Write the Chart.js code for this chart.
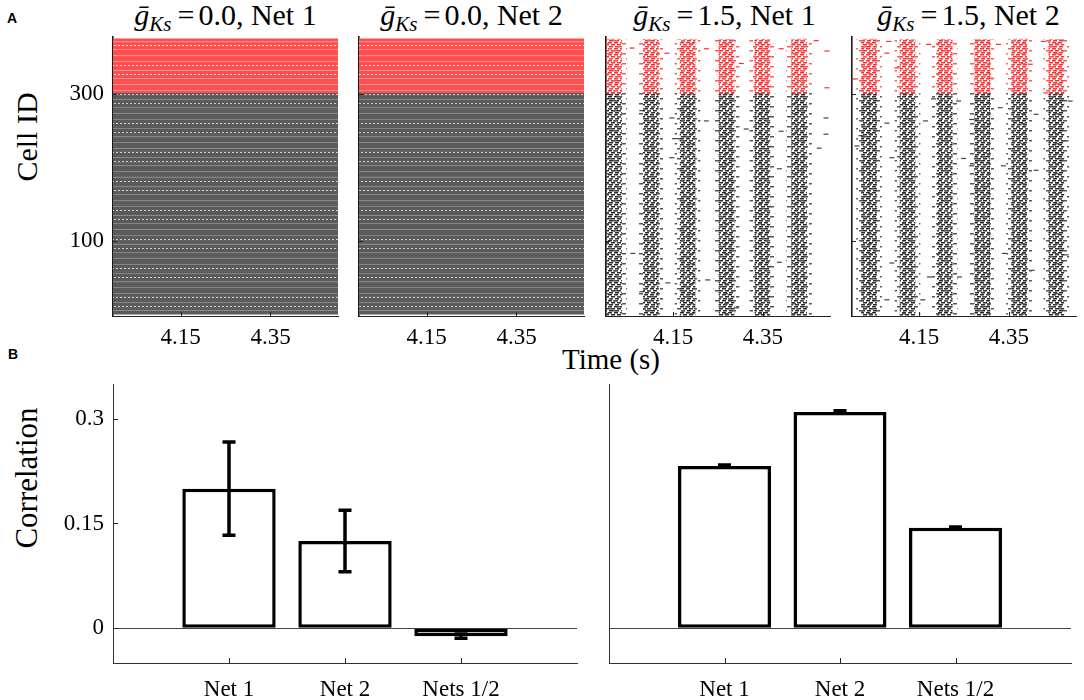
<!DOCTYPE html>
<html>
<head>
<meta charset="utf-8">
<script src="https://cdn.jsdelivr.net/npm/chart.js@4.4.1/dist/chart.umd.min.js"></script>
<style>
  body { margin: 0; width: 1084px; height: 700px; position: relative; background: #fff; overflow: hidden;
         font-family: "Liberation Serif", "DejaVu Serif", serif; color: #000; }
  canvas { position: absolute; }
  .tag { position: absolute; font: bold 14px "Liberation Sans", Arial, sans-serif; line-height: 14px; }
  .ttl { position: absolute; top: 0; font-size: 30px; line-height: 30px; text-align: center; white-space: nowrap; }
  .ttl sub { font-size: 21px; vertical-align: -6px; line-height: 0; }
  .ttl .eq { margin: 0 4px 0 6px; }
  .lab { position: absolute; font-size: 30px; line-height: 30px; white-space: nowrap; }
  .rot { transform: translate(-50%, -50%) rotate(-90deg); }
</style>
</head>
<body>
<div class="tag" style="left:7px;top:11px">A</div>
<div class="tag" style="left:8px;top:347px">B</div>

<div class="ttl" style="left:113px;width:225px"><i>ḡ</i><sub><i>Ks</i></sub><span class="eq">=</span>0.0, Net 1</div>
<div class="ttl" style="left:359px;width:225px"><i>ḡ</i><sub><i>Ks</i></sub><span class="eq">=</span>0.0, Net 2</div>
<div class="ttl" style="left:612px;width:225px"><i>ḡ</i><sub><i>Ks</i></sub><span class="eq">=</span>1.5, Net 1</div>
<div class="ttl" style="left:856px;width:225px"><i>ḡ</i><sub><i>Ks</i></sub><span class="eq">=</span>1.5, Net 2</div>

<div class="lab rot" style="left:27px;top:137px">Cell ID</div>
<div class="lab rot" style="left:27px;top:478px;font-size:31px">Correlation</div>
<div class="lab" style="left:511px;top:344px;width:200px;text-align:center;font-size:29px">Time (s)</div>

<canvas id="a1" width="345" height="360" style="left:0;top:0"></canvas>
<canvas id="a2" width="245" height="360" style="left:349px;top:0"></canvas>
<canvas id="a3" width="244" height="360" style="left:596px;top:0"></canvas>
<canvas id="a4" width="242" height="360" style="left:842px;top:0"></canvas>
<canvas id="b1" width="590" height="360" style="left:0;top:340px"></canvas>
<canvas id="b2" width="488" height="360" style="left:596px;top:340px"></canvas>

<script>
// ---- panel A: spike rasters ----
const timeRange = [4.0, 4.5];
const timeTicks = [4.15, 4.35];
const cellRange = [-2, 377];
const cellTicks = [100, 300];
const nExc = 300;          // cells 1..300 excitatory (black)
const nInh = 74;           // cells above 300 inhibitory (red)

// gKs = 0.0: every cell fires tonically through the whole window
const tonicSpan = [4.0, 4.5];

// gKs = 1.5: population volleys (s)
const volleysNet1 = [4.018, 4.100, 4.182, 4.269, 4.349, 4.431];
const volleysNet2 = [4.038, 4.124, 4.207, 4.291, 4.373, 4.456];

// isolated spikes between volleys [time, cell]
const straysNet1 = [
  [4.058, 362], [4.136, 355], [4.224, 361], [4.302, 341], [4.391, 361], [4.469, 372], [4.493, 358], [4.493, 308],
  [4.080, 277], [4.147, 267], [4.153, 239], [4.224, 263], [4.313, 252], [4.391, 249], [4.491, 267], [4.491, 245],
  [4.476, 226], [4.147, 213], [4.387, 198], [4.060, 83], [4.080, 31], [4.138, 43], [4.227, 47], [4.291, 9], [4.387, 71]
];
const straysNet2 = [
  [4.082, 371], [4.078, 355], [4.004, 320], [4.100, 335], [4.171, 367], [4.327, 367], [4.311, 321], [4.427, 371],
  [4.398, 340], [4.433, 301],
  [4.182, 293], [4.238, 290], [4.164, 263], [4.267, 265], [4.078, 260], [4.331, 281], [4.411, 272], [4.487, 290],
  [4.011, 229], [4.089, 213], [4.249, 212], [4.267, 202], [4.338, 202], [4.411, 196], [4.478, 236], [4.020, 243],
  [4.089, 70], [4.173, 51], [4.240, 51], [4.340, 83], [4.402, 60], [4.478, 81], [4.078, 20], [4.158, 20]
];

// ---- panel B: correlations ----
const groups = ['Net 1', 'Net 2', 'Nets 1/2'];
const corrG00 = [0.200, 0.125, -0.0115];
const errG00 = [0.067, 0.044, 0.003];
const corrG15 = [0.2325, 0.310, 0.144];
const errG15 = [0.0015, 0.0015, 0.001];
const corrRange = [-0.05, 0.35];
const corrTicks = [0, 0.15, 0.3];

const RED = 'rgb(255,40,40)';
const tickFont = { family: '"Liberation Serif", serif', size: 23 };

const excIds = Array.from({ length: nExc }, (_, i) => i + 1);
const inhIds = Array.from({ length: nInh }, (_, i) => nExc + i + 1);

function makePattern(w, h, paint) {
  const c = document.createElement('canvas');
  c.width = w; c.height = h;
  paint(c.getContext('2d'));
  return c.getContext('2d').createPattern(c, 'repeat');
}

// dense tonic firing: merged dashes with some lighter and dotted rows
function stripePattern(base, light, gap) {
  return makePattern(16, 29, g => {
    g.fillStyle = base; g.fillRect(0, 0, 16, 29);
    g.fillStyle = light;
    [3, 12, 20, 26].forEach(y => g.fillRect(0, y, 16, 1));
    g.fillStyle = gap;
    [0, 4, 8, 12].forEach(x => { g.fillRect(x, 7, 2, 1); g.fillRect(x + 2, 16, 2, 1); });
  });
}

// short dashes, like raster ticks, as a fill texture for the volley bands
function dashPattern(color, sparse) {
  const dense = [[0, 0, 4], [6, 0, 4], [3, 2, 4], [9, 2, 3], [0, 2, 1], [1, 4, 4], [7, 4, 4]];
  const thin = [[0, 0, 4], [9, 3, 4], [4, 6, 4], [13, 8, 3]];
  return makePattern(sparse ? 17 : 12, sparse ? 10 : 6, g => {
    g.fillStyle = color;
    (sparse ? thin : dense).forEach(([x, y, w]) => g.fillRect(x, y, w, 1.5));
  });
}

// small tick marks pointing into the plot
const inTicks = {
  id: 'inTicks',
  afterDatasetsDraw(chart, args, opts) {
    if (!opts.len) return;
    const { ctx, chartArea: a, scales: { x, y } } = chart;
    ctx.save();
    ctx.strokeStyle = '#222';
    ctx.lineWidth = 1;
    ctx.beginPath();
    x.ticks.forEach((t, i) => {
      if (t.label === '') return;
      const px = Math.round(x.getPixelForTick(i)) + 0.5;
      ctx.moveTo(px, a.bottom); ctx.lineTo(px, a.bottom - opts.len);
    });
    if (opts.y) {
      y.ticks.forEach((t, i) => {
        const py = Math.round(y.getPixelForTick(i)) + 0.5;
        ctx.moveTo(a.left, py); ctx.lineTo(a.left + opts.len, py);
      });
    }
    ctx.stroke();
    ctx.restore();
  }
};

const errorBars = {
  id: 'errorBars',
  afterDatasetsDraw(chart, args, opts) {
    const { ctx, scales: { y } } = chart;
    const meta = chart.getDatasetMeta(0);
    const vals = chart.data.datasets[0].data;
    ctx.save();
    ctx.strokeStyle = '#000';
    ctx.lineWidth = 3.5;
    ctx.beginPath();
    meta.data.forEach((bar, i) => {
      const e = opts.errs[i];
      if (e == null || vals[i] == null) return;
      const top = y.getPixelForValue(vals[i] + e), bot = y.getPixelForValue(vals[i] - e);
      ctx.moveTo(bar.x, top); ctx.lineTo(bar.x, bot);
      ctx.moveTo(bar.x - opts.cap / 2, top); ctx.lineTo(bar.x + opts.cap / 2, top);
      ctx.moveTo(bar.x - opts.cap / 2, bot); ctx.lineTo(bar.x + opts.cap / 2, bot);
    });
    ctx.stroke();
    ctx.restore();
  }
};

function rasterPanel(id, yW, padRight, indexAxis, datasets, showLabels) {
  return new Chart(document.getElementById(id), {
    type: 'bar',
    data: { datasets },
    options: {
      responsive: false,
      animation: false,
      indexAxis,
      layout: { padding: { top: 37, right: padRight, left: 0, bottom: 0 } },
      plugins: { legend: { display: false }, tooltip: { enabled: false }, inTicks: { len: 4, y: true } },
      scales: {
        x: {
          type: 'linear', min: timeRange[0], max: timeRange[1], offset: false,
          afterBuildTicks: s => { s.ticks = timeTicks.map(v => ({ value: v })); },
          afterFit: s => { s.height = 44; },
          grid: { display: false, drawTicks: false, offset: false },
          border: { display: true, color: '#222', width: 1 },
          ticks: { color: '#000', font: tickFont, padding: 8, maxRotation: 0, callback: v => String(v) }
        },
        y: {
          type: 'linear', min: cellRange[0], max: cellRange[1], offset: false,
          afterBuildTicks: s => { s.ticks = cellTicks.map(v => ({ value: v })); },
          afterFit: s => { s.width = yW; },
          grid: { display: false, drawTicks: false, offset: false },
          border: { display: true, color: '#1a1a1a', width: 1.6 },
          ticks: { display: showLabels, color: '#000', font: tickFont, padding: 9, callback: v => String(v) }
        }
      }
    },
    plugins: [inTicks]
  });
}

function tonicSets() {
  return [
    { data: excIds.map(c => ({ y: c, x: tonicSpan })), grouped: false, barPercentage: 1, categoryPercentage: 1,
      backgroundColor: stripePattern('#5b5b5b', '#858585', '#cfcfcf'), clip: 0 },
    { data: inhIds.map(c => ({ y: c, x: tonicSpan })), grouped: false, barPercentage: 1, categoryPercentage: 1,
      backgroundColor: stripePattern('rgb(255,78,78)', 'rgb(255,140,140)', 'rgb(255,225,225)'), clip: 0 }
  ];
}

function volleySets(volleys, strays) {
  const band = (lo, hi, color, sparse, width) => ({
    data: volleys.map(t => ({ x: t, y: [lo, hi] })), backgroundColor: dashPattern(color, sparse),
    grouped: false, barThickness: width, clip: 0
  });
  const dash = (color, pts) => ({
    type: 'scatter', pointStyle: 'line', radius: 2.5, borderWidth: 1.2, borderColor: color, clip: 0,
    data: pts.map(([x, y]) => ({ x, y }))
  });
  return [
    band(cellRange[0], nExc, '#555', true, 25),
    band(nExc, nExc + nInh, 'rgb(255,90,90)', true, 25),
    band(cellRange[0], nExc, '#2a2a2a', false, 15),
    band(nExc, nExc + nInh, 'rgb(255,45,45)', false, 15),
    dash('#444', strays.filter(s => s[1] <= nExc)),
    dash(RED, strays.filter(s => s[1] > nExc))
  ];
}

rasterPanel('a1', 113, 7, 'y', tonicSets(), true);
rasterPanel('a2', 10, 10, 'y', tonicSets(), false);
rasterPanel('a3', 10, 10, 'x', volleySets(volleysNet1, straysNet1), false);
rasterPanel('a4', 10, 8, 'x', volleySets(volleysNet2, straysNet2), false);

function corrPanel(id, yW, padRight, vals, errs, showLabels) {
  return new Chart(document.getElementById(id), {
    type: 'bar',
    data: {
      labels: ['', ...groups, ''],
      datasets: [{
        data: [null, ...vals, null],
        backgroundColor: '#fff', borderColor: '#000', borderWidth: 3.5, borderSkipped: false,
        barPercentage: 0.805, categoryPercentage: 1
      }]
    },
    options: {
      responsive: false,
      animation: false,
      layout: { padding: { top: 44, right: padRight, left: 0, bottom: 0 } },
      plugins: {
        legend: { display: false }, tooltip: { enabled: false },
        inTicks: { len: 5, y: showLabels },
        errorBars: { errs: [null, ...errs, null], cap: 13 }
      },
      scales: {
        x: {
          offset: false,
          afterFit: s => { s.height = 37; },
          grid: { display: false, drawTicks: false, offset: false },
          border: { display: true, color: '#333', width: 1 },
          ticks: { color: '#000', font: tickFont, padding: 13, maxRotation: 0, autoSkip: false }
        },
        y: {
          min: corrRange[0], max: corrRange[1],
          afterBuildTicks: s => { s.ticks = corrTicks.map(v => ({ value: v })); },
          afterFit: s => { s.width = yW; },
          grid: { drawTicks: false, color: c => c.tick && c.tick.value === 0 ? '#444' : 'rgba(0,0,0,0)', lineWidth: 1 },
          border: { display: true, color: '#333', width: 1 },
          ticks: { display: showLabels, color: '#000', font: tickFont, padding: 9, callback: v => String(v) }
        }
      }
    },
    plugins: [errorBars, inTicks]
  });
}

corrPanel('b1', 113, 7, corrG00, errG00, true);
corrPanel('b2', 10, 8, corrG15, errG15, false);
</script>
</body>
</html>
